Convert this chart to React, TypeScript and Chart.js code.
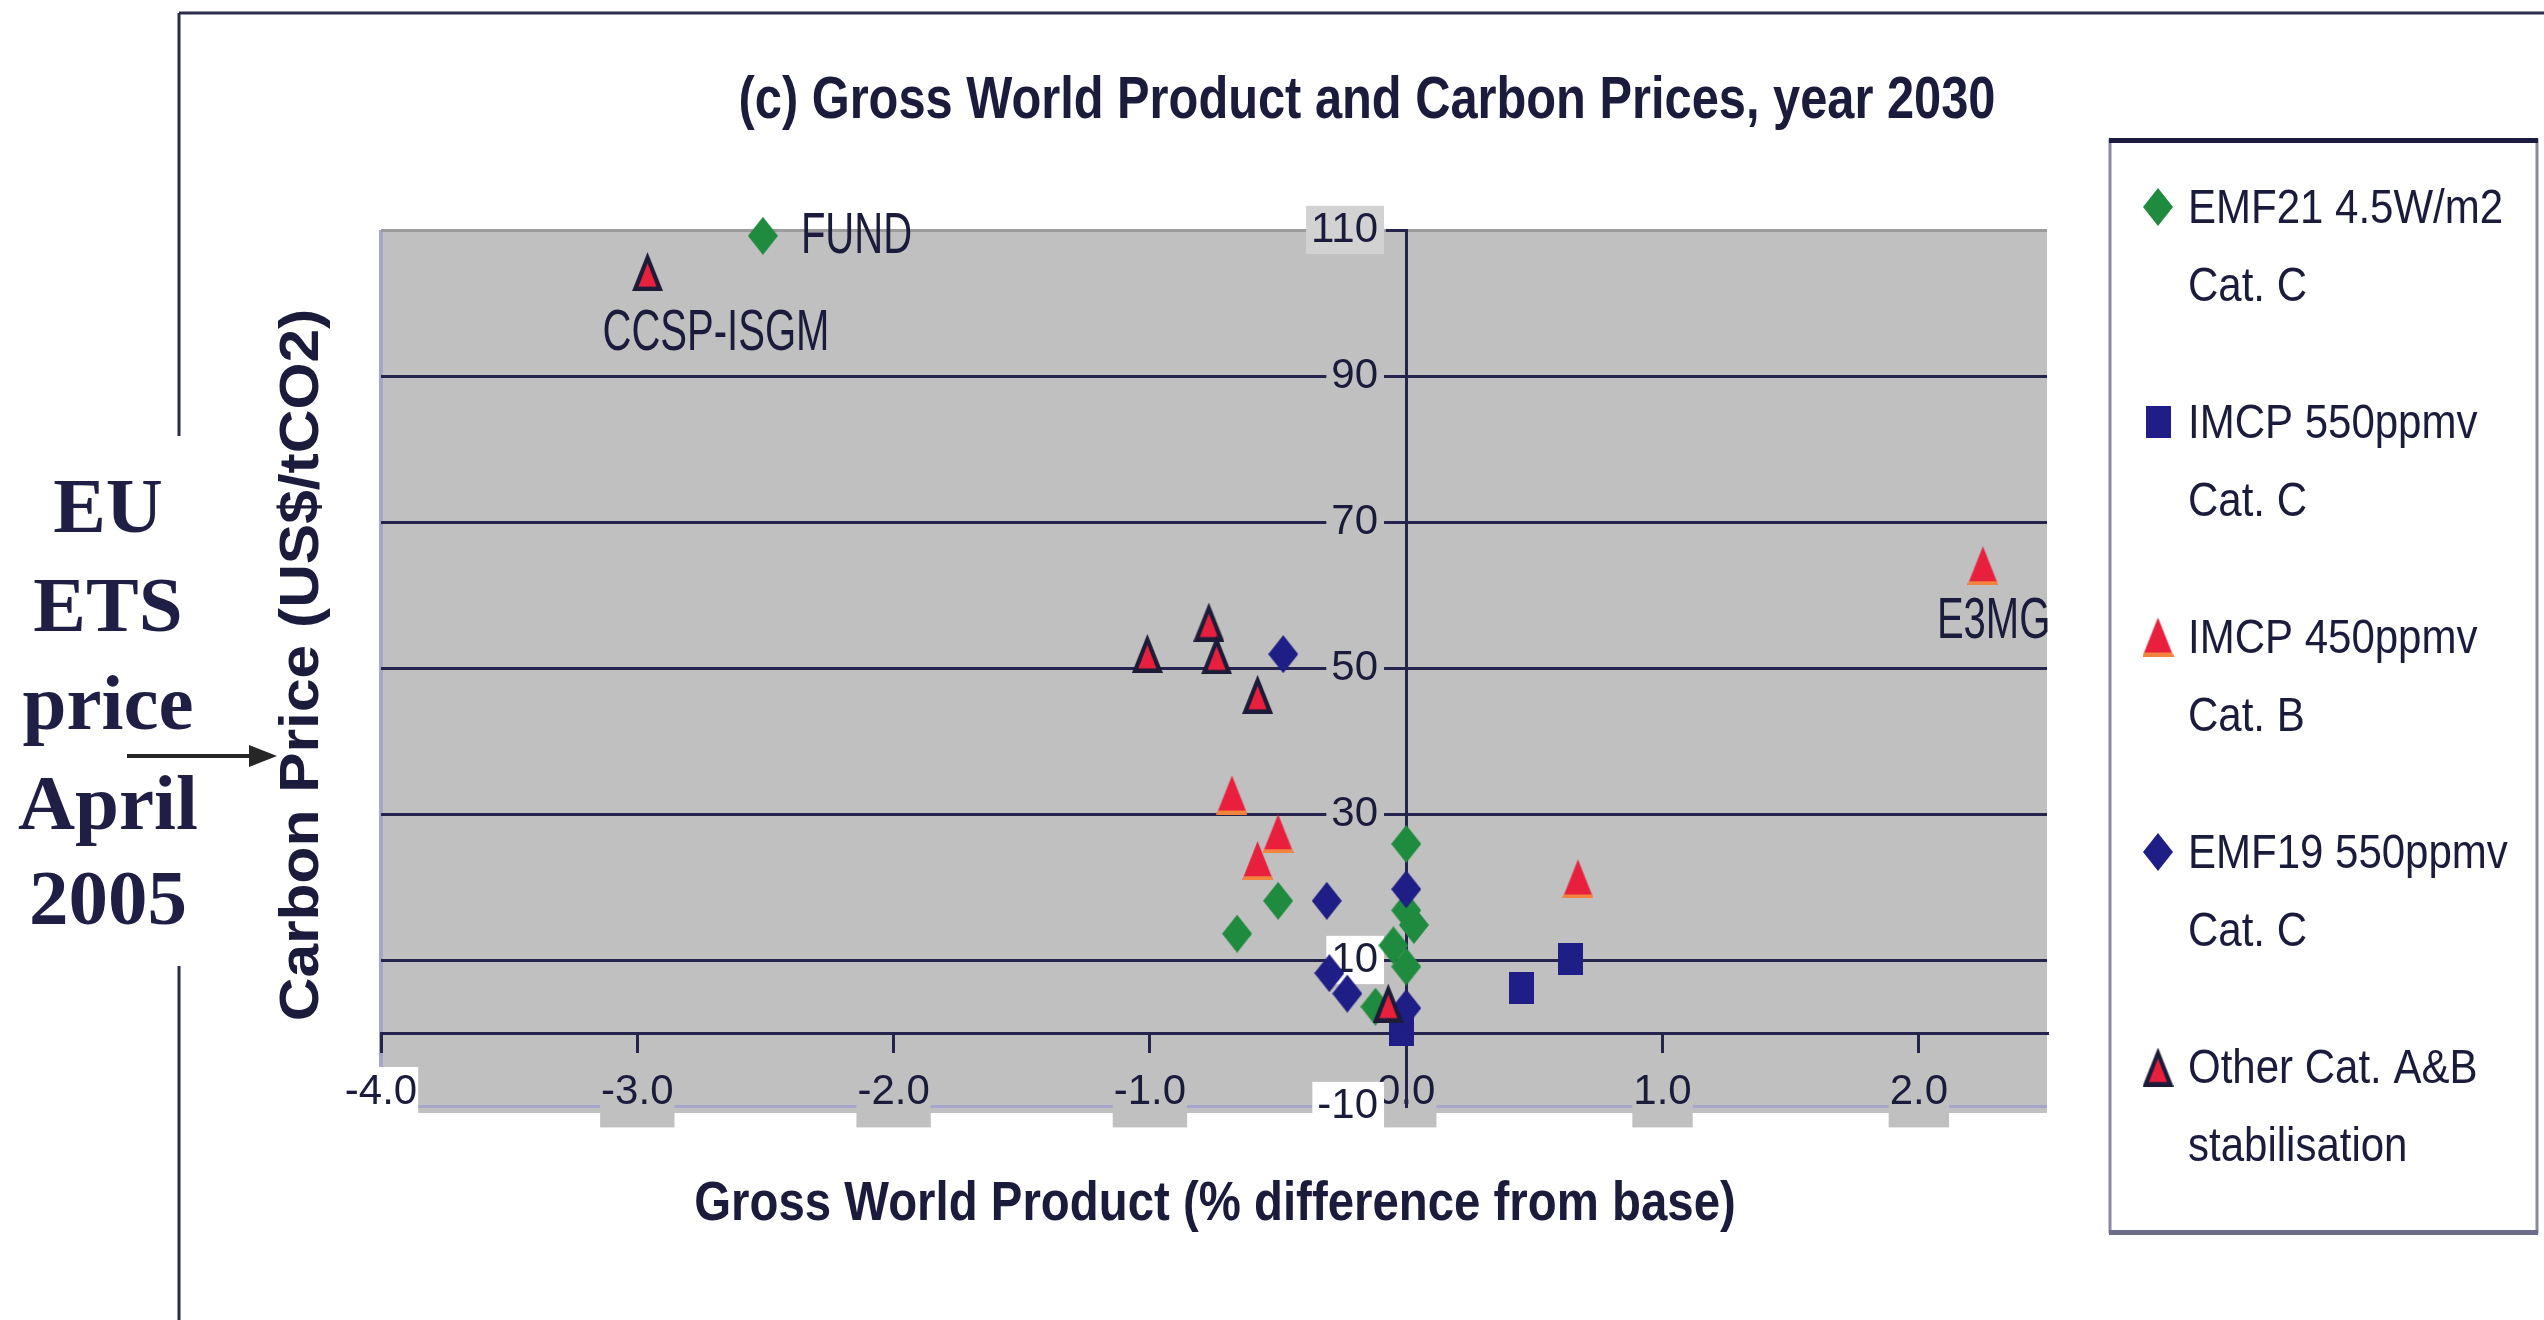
import React, { useEffect, useRef } from 'react';
import { Chart, registerables } from 'chart.js';

Chart.register(...registerables);

// ---------------- data ----------------
const X_TICKS = [-4, -3, -2, -1, 0, 1, 2];
const X_TICK_LABELS = ['-4.0', '-3.0', '-2.0', '-1.0', '0.0', '1.0', '2.0'];
const Y_TICKS = [-10, 10, 30, 50, 70, 90, 110];
const Y_TICK_LABELS = ['-10', '10', '30', '50', '70', '90', '110'];
const X_MIN = -4;
const X_MAX = 2.5;
const Y_MIN = -10;
const Y_MAX = 110;

const EMF21_X = [-2.51, 0.0, -0.5, -0.66, 0.0, 0.03, -0.05, 0.0, -0.12];
const EMF21_Y = [109.2, 25.9, 18.1, 13.6, 16.8, 14.8, 12.0, 9.1, 3.6];
const IMCP550_X = [0.45, 0.64, -0.02];
const IMCP550_Y = [6.2, 10.1, 0.4];
const IMCP450_X = [-0.68, -0.5, -0.58, 0.67, 2.25];
const IMCP450_Y = [32.6, 27.3, 23.6, 21.1, 64.0];
const EMF19_X = [-0.48, -0.31, 0.0, -0.3, -0.23, 0.0];
const EMF19_Y = [51.9, 18.1, 19.7, 8.2, 5.4, 3.4];
const OTHER_X = [-2.96, -1.01, -0.77, -0.74, -0.58, -0.07];
const OTHER_Y = [104.3, 52.0, 56.3, 51.8, 46.4, 4.1];

const SERIES_LABELS = [
  ['EMF21 4.5W/m2', 'Cat. C'],
  ['IMCP 550ppmv', 'Cat. C'],
  ['IMCP 450ppmv', 'Cat. B'],
  ['EMF19 550ppmv', 'Cat. C'],
  ['Other Cat. A&B', 'stabilisation'],
];

const POINT_NOTES = ['FUND', 'CCSP-ISGM', 'E3MG'];
const POINT_NOTE_SERIES = [0, 4, 2];
const POINT_NOTE_INDEX = [0, 0, 4];

const TITLE = '(c) Gross World Product and Carbon Prices, year 2030';
const X_TITLE = 'Gross World Product (% difference from base)';
const Y_TITLE = 'Carbon Price (US$/tCO2)';
const SIDE_NOTE = ['EU', 'ETS', 'price', 'April', '2005'];

// ---------------- styles ----------------
const INK = '#1b1b3c';
const NAVY_LINE = '#24244e';
const GREEN = '#1f8b3e';
const NAVY = '#1e1e86';
const RED = '#e8203e';
const BORDER = '#1c1c38';
const SANS = "'Liberation Sans', Arial, sans-serif";
const SERIF = "'Liberation Serif', 'Times New Roman', serif";
const Y_LABEL_AT = -0.11; // y tick labels sit just left of the vertical axis

const pts = (xs: number[], ys: number[]) => xs.map((x, i) => ({ x, y: ys[i] }));

function makeMarker(kind: string, fill: string, extra: string = '') {
  const c = document.createElement('canvas');
  const [w, h] = kind === 'diamond' ? [30, 38] : kind === 'square' ? [25, 32] : [31, 39];
  c.width = w;
  c.height = h;
  const g = c.getContext('2d') as CanvasRenderingContext2D;
  g.beginPath();
  if (kind === 'diamond') {
    g.moveTo(w / 2, 0);
    g.lineTo(w, h / 2);
    g.lineTo(w / 2, h);
    g.lineTo(0, h / 2);
  } else if (kind === 'square') {
    g.rect(0, 0, w, h);
  } else {
    g.moveTo(w / 2, 0);
    g.lineTo(w, h);
    g.lineTo(0, h);
  }
  g.closePath();
  if (extra === 'border') {
    g.fillStyle = BORDER;
    g.fill();
    g.beginPath();
    g.moveTo(w / 2, 11);
    g.lineTo(w - 6.5, h - 4.5);
    g.lineTo(6.5, h - 4.5);
    g.closePath();
    g.fillStyle = fill;
    g.fill();
  } else {
    g.fillStyle = fill;
    g.fill();
    if (extra === 'edge') {
      g.save();
      g.clip();
      g.fillStyle = '#f2843e';
      g.fillRect(0, h - 4, w, 4);
      g.restore();
    }
  }
  return c;
}

function sqText(
  ctx: CanvasRenderingContext2D,
  text: string,
  x: number,
  y: number,
  font: string,
  sx: number,
  align: CanvasTextAlign,
  color: string
) {
  ctx.save();
  ctx.font = font;
  ctx.fillStyle = color;
  ctx.textAlign = align;
  ctx.textBaseline = 'alphabetic';
  ctx.translate(x, y);
  ctx.scale(sx, 1);
  ctx.fillText(text, 0, 0);
  ctx.restore();
}

const NOTE_OFFSETS = [
  [38, 17],
  [-45, 78],
  [-46, 72],
];

const decorPlugin = {
  id: 'decor',
  beforeDraw(chart: any) {
    const { ctx, chartArea: a } = chart;
    ctx.save();
    ctx.fillStyle = '#ffffff';
    ctx.fillRect(0, 0, chart.width, chart.height);
    // outer frame
    ctx.strokeStyle = '#2c2c4c';
    ctx.lineWidth = 3;
    ctx.beginPath();
    ctx.moveTo(179, 13);
    ctx.lineTo(chart.width, 13);
    ctx.moveTo(179, 13);
    ctx.lineTo(179, 436);
    ctx.moveTo(179, 966);
    ctx.lineTo(179, chart.height);
    ctx.stroke();
    // plot background
    ctx.fillStyle = '#c0c0c0';
    ctx.fillRect(a.left, a.top, a.right - a.left, a.bottom - a.top + 7);
    ctx.fillStyle = '#a6a6c8';
    ctx.fillRect(a.left - 2, a.top, 4, a.bottom - a.top + 7);
    ctx.restore();
  },
  afterDraw(chart: any) {
    const { ctx } = chart;
    ctx.save();
    // title
    sqText(ctx, TITLE, 1367, 118, `bold 60px ${SANS}`, 0.813, 'center', INK);
    // x title
    sqText(ctx, X_TITLE, 1215, 1220, `bold 56px ${SANS}`, 0.846, 'center', INK);
    // y title (rotated)
    ctx.save();
    ctx.translate(318, 665);
    ctx.rotate(-Math.PI / 2);
    ctx.scale(1.08, 1);
    ctx.font = `bold 56px ${SANS}`;
    ctx.fillStyle = INK;
    ctx.textAlign = 'center';
    ctx.textBaseline = 'alphabetic';
    ctx.fillText(Y_TITLE, 0, 0);
    ctx.restore();
    // side note
    ctx.font = `bold 79px ${SERIF}`;
    ctx.fillStyle = '#1f1f45';
    ctx.textAlign = 'center';
    ctx.textBaseline = 'alphabetic';
    const sideBase = [532, 631, 729, 829, 924];
    SIDE_NOTE.forEach((t, i) => ctx.fillText(t, 108, sideBase[i]));
    // arrow
    ctx.strokeStyle = '#262626';
    ctx.fillStyle = '#262626';
    ctx.lineWidth = 4;
    ctx.beginPath();
    ctx.moveTo(127, 756);
    ctx.lineTo(255, 756);
    ctx.stroke();
    ctx.beginPath();
    ctx.moveTo(277, 756);
    ctx.lineTo(249, 745);
    ctx.lineTo(249, 767);
    ctx.closePath();
    ctx.fill();
    // point notes
    POINT_NOTES.forEach((t, k) => {
      const el = chart.getDatasetMeta(POINT_NOTE_SERIES[k]).data[POINT_NOTE_INDEX[k]];
      sqText(ctx, t, el.x + NOTE_OFFSETS[k][0], el.y + NOTE_OFFSETS[k][1], `58px ${SANS}`, 0.69, 'left', INK);
    });
    // legend
    const L = { left: 2110, right: 2537, top: 140, bottom: 1232, symX: 2158, textX: 2188, base: 223, step: 215, line2: 78 };
    ctx.fillStyle = '#ffffff';
    ctx.fillRect(L.left, L.top, L.right - L.left, L.bottom - L.top);
    ctx.strokeStyle = '#8a8aa4';
    ctx.lineWidth = 3;
    ctx.strokeRect(L.left, L.top, L.right - L.left, L.bottom - L.top);
    ctx.fillStyle = '#1c1c40';
    ctx.fillRect(L.left - 1, L.top - 2, L.right - L.left + 2, 5);
    ctx.fillStyle = '#6e6e88';
    ctx.fillRect(L.left - 1, L.bottom - 2, L.right - L.left + 2, 5);
    chart.data.datasets.forEach((ds: any, i: number) => {
      const b = L.base + i * L.step;
      const img = ds.pointStyle as HTMLCanvasElement;
      ctx.drawImage(img, L.symX - img.width / 2, b - 16 - img.height / 2);
      const lines = SERIES_LABELS[i];
      lines.forEach((t, j) => sqText(ctx, t, L.textX, b + j * L.line2, `48px ${SANS}`, 0.875, 'left', INK));
    });
    ctx.restore();
  },
};

export default function App() {
  const ref = useRef<HTMLCanvasElement>(null);

  useEffect(() => {
    const canvas = ref.current;
    if (!canvas) return;
    const mk = {
      green: makeMarker('diamond', GREEN),
      square: makeMarker('square', NAVY),
      red: makeMarker('triangle', RED, 'edge'),
      navy: makeMarker('diamond', NAVY),
      other: makeMarker('triangle', RED, 'border'),
    };
    const styles = [mk.green, mk.square, mk.red, mk.navy, mk.other];
    const series = [
      pts(EMF21_X, EMF21_Y),
      pts(IMCP550_X, IMCP550_Y),
      pts(IMCP450_X, IMCP450_Y),
      pts(EMF19_X, EMF19_Y),
      pts(OTHER_X, OTHER_Y),
    ];
    const datasets = series.map((data, i) => ({
      label: SERIES_LABELS[i].join(' '),
      data,
      pointStyle: styles[i],
      pointRadius: 14,
      pointHoverRadius: 14,
      order: 4 - i,
      clip: false as any,
      showLine: false,
    }));

    const yGridColor = (c: any) => {
      const v = c.tick ? c.tick.value : 0;
      if (v === 110) return '#9c9c9c';
      if (v === -10) return '#a6a6cc';
      return NAVY_LINE;
    };

    const chart = new Chart(canvas, {
      type: 'scatter',
      data: { datasets: datasets as any },
      plugins: [decorPlugin],
      options: {
        animation: false,
        responsive: false,
        maintainAspectRatio: false,
        devicePixelRatio: 1,
        events: [],
        layout: { padding: { left: 381, right: 497, top: 230, bottom: 214 } },
        plugins: {
          legend: { display: false },
          title: { display: false },
          tooltip: { enabled: false },
        },
        scales: {
          x: {
            type: 'linear',
            position: { y: Y_MIN } as any,
            z: 2,
            min: X_MIN,
            max: X_MAX,
            afterBuildTicks: (s: any) => {
              s.ticks = X_TICKS.map((v) => ({ value: v }));
            },
            grid: { display: false, drawTicks: false },
            border: { display: false },
            ticks: {
              autoSkip: false,
              maxRotation: 0,
              padding: -39,
              color: INK,
              font: { family: SANS, size: 42, lineHeight: 1.2 },
              callback: (_v: any, i: number) => X_TICK_LABELS[i],
              showLabelBackdrop: true,
              backdropColor: (c: any) => (c.index === 0 ? '#ffffff' : '#c0c0c0'),
              backdropPadding: { top: 0, bottom: 10, left: 1, right: 1 },
            } as any,
          },
          x2: {
            type: 'linear',
            position: { y: 0 } as any,
            min: X_MIN,
            max: X_MAX,
            afterBuildTicks: (s: any) => {
              s.ticks = X_TICKS.map((v) => ({ value: v }));
            },
            grid: { drawOnChartArea: false, drawTicks: true, tickLength: 18, color: NAVY_LINE, lineWidth: 3 },
            border: { display: true, color: NAVY_LINE, width: 3 },
            ticks: { display: false },
          },
          y: {
            type: 'linear',
            position: { x: 0 } as any,
            min: Y_MIN,
            max: Y_MAX,
            afterBuildTicks: (s: any) => {
              s.ticks = Y_TICKS.map((v) => ({ value: v }));
            },
            grid: {
              drawOnChartArea: true,
              drawTicks: true,
              tickLength: 19,
              color: yGridColor,
              tickColor: NAVY_LINE,
              lineWidth: 3,
            },
            border: { display: true, color: NAVY_LINE, width: 3 },
            ticks: { display: false },
          },
          yl: {
            type: 'linear',
            position: { x: Y_LABEL_AT } as any,
            z: 1,
            min: Y_MIN,
            max: Y_MAX,
            afterBuildTicks: (s: any) => {
              s.ticks = Y_TICKS.map((v) => ({ value: v }));
            },
            grid: { display: false, drawTicks: false },
            border: { display: false },
            ticks: {
              padding: 0,
              color: INK,
              font: { family: SANS, size: 42, lineHeight: 1.15 },
              callback: (_v: any, i: number) => Y_TICK_LABELS[i],
              showLabelBackdrop: true,
              backdropColor: (c: any) => {
                const v = c.tick ? c.tick.value : 0;
                if (v === 10 || v === -10) return '#ffffff';
                if (v === 110) return '#d2d2d2';
                return '#c0c0c0';
              },
              backdropPadding: { top: 0, bottom: 0, left: 5, right: 6 },
            } as any,
          },
        },
      } as any,
    });
    return () => chart.destroy();
  }, []);

  return (
    <div style={{ position: 'absolute', left: 0, top: 0, width: 2544, height: 1320, background: '#ffffff' }}>
      <canvas ref={ref} width={2544} height={1320} style={{ display: 'block', width: 2544, height: 1320 }} />
    </div>
  );
}
